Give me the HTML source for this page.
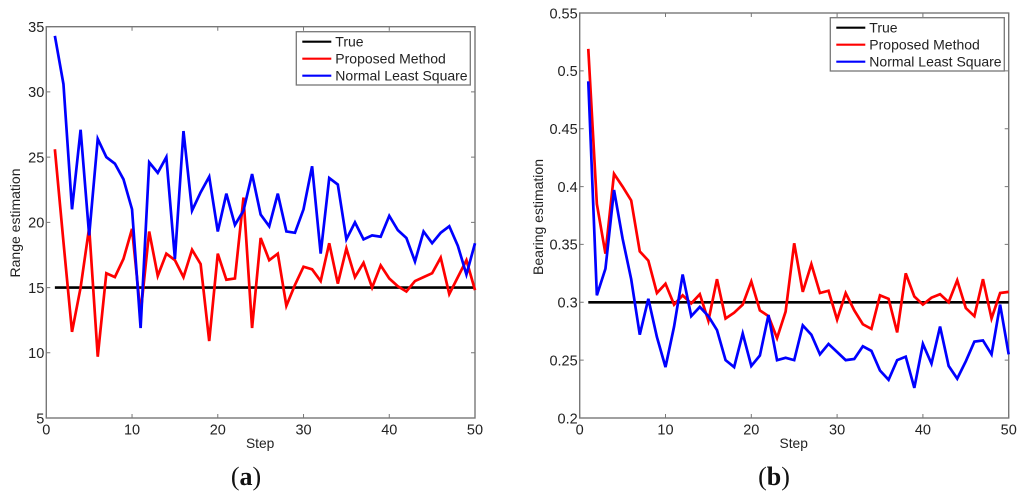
<!DOCTYPE html>
<html lang="en">
<head>
<meta charset="utf-8">
<title>Range and bearing estimation</title>
<style>
html,body{margin:0;padding:0;background:#fff;width:1024px;height:498px;overflow:hidden}
svg{display:block;font-family:"Liberation Sans",Arial,sans-serif;fill:#222}
.soft{filter:blur(.35px)}
</style>
</head>
<body>
<svg id="fig" xmlns="http://www.w3.org/2000/svg" width="1024" height="498" viewBox="0 0 1024 498">
  <g id="chart-a" class="soft"></g>
  <g id="chart-b" class="soft"></g>
  <text x="246" y="485" font-family="'Liberation Serif',serif" font-size="26" text-anchor="middle" fill="#111">(<tspan font-weight="bold">a</tspan>)</text>
  <text x="774" y="485" font-family="'Liberation Serif',serif" font-size="26" text-anchor="middle" fill="#111">(<tspan font-weight="bold">b</tspan>)</text>
</svg>
<script>
var steps = [];
for (var s = 1; s <= 50; s++) steps.push(s);
var xTicks = [0, 10, 20, 30, 40, 50];
var legendLabels = ['True', 'Proposed Method', 'Normal Least Square'];

var rangeYTicks = [5, 10, 15, 20, 25, 30, 35];
var rangeTrue = 15;
var rangeProposed = [25.6,18.5,11.6,15,19.6,9.7,16.1,15.8,17.2,19.5,13.0,19.3,15.9,17.6,17.1,15.8,17.9,16.8,10.9,17.6,15.6,15.7,21.9,11.9,18.8,17.1,17.6,13.6,15.2,16.6,16.4,15.5,18.4,15.3,18.0,15.8,16.9,15.0,16.7,15.7,15.1,14.7,15.5,15.8,16.1,17.3,14.5,15.8,17.1,14.8];
var rangeNormal = [34.3,30.6,21.0,27.1,19.0,26.4,25.0,24.5,23.3,21.0,11.9,24.6,23.8,25.0,17.2,27.0,20.9,22.3,23.5,19.3,22.2,19.8,20.9,23.7,20.6,19.7,22.2,19.3,19.2,21.0,24.3,17.6,23.4,22.9,18.7,20.0,18.7,19.0,18.9,20.5,19.4,18.8,17.0,19.3,18.4,19.2,19.7,18.2,16.0,18.4];

var bearingYTicks = [0.2, 0.25, 0.3, 0.35, 0.4, 0.45, 0.5, 0.55];
var bearingTrue = 0.3;
var bearingProposed = [0.519,0.385,0.342,0.411,0.400,0.388,0.344,0.336,0.308,0.316,0.298,0.306,0.299,0.307,0.284,0.320,0.286,0.291,0.298,0.318,0.293,0.288,0.269,0.292,0.351,0.309,0.333,0.308,0.310,0.285,0.308,0.293,0.281,0.277,0.306,0.303,0.274,0.325,0.305,0.298,0.304,0.307,0.300,0.319,0.295,0.288,0.320,0.286,0.308,0.309];
var bearingNormal = [0.491,0.306,0.329,0.397,0.355,0.320,0.272,0.303,0.270,0.244,0.279,0.324,0.288,0.296,0.288,0.276,0.250,0.244,0.273,0.245,0.254,0.289,0.250,0.252,0.250,0.280,0.272,0.255,0.264,0.257,0.250,0.251,0.262,0.258,0.241,0.233,0.250,0.253,0.226,0.264,0.247,0.279,0.245,0.234,0.249,0.266,0.267,0.255,0.298,0.255];

var NS = 'http://www.w3.org/2000/svg';

function mk(parent, tag) {
  var el = document.createElementNS(NS, tag);
  parent.appendChild(el);
  return el;
}

function drawChart(cfg) {
  var root = document.getElementById(cfg.id);
  var L = cfg.left, R = cfg.right, T = cfg.top, B = cfg.bottom;
  var xMin = xTicks[0], xMax = xTicks[xTicks.length - 1];
  var yMin = cfg.yTicks[0], yMax = cfg.yTicks[cfg.yTicks.length - 1];
  function X(v) { return L + (v - xMin) / (xMax - xMin) * (R - L); }
  function Y(v) { return B - (v - yMin) / (yMax - yMin) * (B - T); }

  // axes frame
  var frame = mk(root, 'rect');
  
  
  frame.setAttribute('x', L);
  frame.setAttribute('y', T);
  frame.setAttribute('width', R - L);
  frame.setAttribute('height', B - T);
  frame.setAttribute('fill', 'none');
  frame.setAttribute('stroke', '#777');
  frame.setAttribute('stroke-width', '1.4');

  // x ticks
  xTicks.forEach(function (t) {
    var tb = mk(root, 'path');
    
    
    tb.setAttribute('d', 'M' + X(t) + ' ' + B + 'v-4M' + X(t) + ' ' + T + 'v4');
    tb.setAttribute('stroke', '#777');
    tb.setAttribute('fill', 'none');
    var lab = mk(root, 'text');
    
    
    lab.setAttribute('x', X(t));
    lab.setAttribute('y', B + 16.5);
    lab.setAttribute('font-size', '14.5');
    lab.setAttribute('text-anchor', 'middle');
    lab.textContent = String(t);
  });

  // y ticks
  cfg.yTicks.forEach(function (t) {
    var tb = mk(root, 'path');
    
    
    tb.setAttribute('d', 'M' + L + ' ' + Y(t) + 'h4M' + R + ' ' + Y(t) + 'h-4');
    tb.setAttribute('stroke', '#777');
    tb.setAttribute('fill', 'none');
    var lab = mk(root, 'text');
    
    
    lab.setAttribute('x', L - 2);
    lab.setAttribute('y', Y(t) + 5.3);
    lab.setAttribute('font-size', '14.5');
    lab.setAttribute('text-anchor', 'end');
    lab.textContent = String(t);
  });

  // axis titles
  var xt = mk(root, 'text');
  
  
  xt.setAttribute('x', (L + R) / 2 - 0.5);
  xt.setAttribute('y', 448);
  xt.setAttribute('font-size', '13.8');
  xt.setAttribute('text-anchor', 'middle');
  xt.textContent = 'Step';

  var yt = mk(root, 'text');
  
  
  yt.setAttribute('transform', 'translate(' + cfg.yTitleX + ' ' + cfg.yTitleY + ') rotate(-90)');
  yt.setAttribute('font-size', '14');
  yt.setAttribute('text-anchor', 'middle');
  yt.textContent = cfg.yTitle;

  // series
  var trueLine = mk(root, 'line');
  
  
  trueLine.setAttribute('x1', X(steps[0]));
  trueLine.setAttribute('x2', X(steps[steps.length - 1]));
  trueLine.setAttribute('y1', Y(cfg.trueValue));
  trueLine.setAttribute('y2', Y(cfg.trueValue));
  trueLine.setAttribute('stroke', '#000');
  trueLine.setAttribute('stroke-width', '2.6');

  var red = mk(root, 'polyline');
  
  
  red.setAttribute('points', cfg.proposed.map(function (v, i) { return X(steps[i]).toFixed(2) + ',' + Y(v).toFixed(2); }).join(' '));
  red.setAttribute('fill', 'none');
  red.setAttribute('stroke', '#f00');
  red.setAttribute('stroke-width', '2.7');

  var blue = mk(root, 'polyline');
  
  
  blue.setAttribute('points', cfg.normal.map(function (v, i) { return X(steps[i]).toFixed(2) + ',' + Y(v).toFixed(2); }).join(' '));
  blue.setAttribute('fill', 'none');
  blue.setAttribute('stroke', '#00f');
  blue.setAttribute('stroke-width', '2.7');

  // legend
  var lg = mk(root, 'g');
  
  
  var box = mk(lg, 'rect');
  
  
  box.setAttribute('x', cfg.legendX);
  box.setAttribute('y', cfg.legendY);
  box.setAttribute('width', 174);
  box.setAttribute('height', 53.3);
  box.setAttribute('fill', '#fff');
  box.setAttribute('stroke', '#777');
  box.setAttribute('stroke-width', '1.3');
  var colors = ['#000', '#f00', '#00f'];
  legendLabels.forEach(function (name, i) {
    var cy = cfg.legendY + 10 + i * 17;
    var sw = mk(lg, 'line');
    
    
    sw.setAttribute('x1', cfg.legendX + 6);
    sw.setAttribute('x2', cfg.legendX + 35);
    sw.setAttribute('y1', cy);
    sw.setAttribute('y2', cy);
    sw.setAttribute('stroke', colors[i]);
    sw.setAttribute('stroke-width', '2.2');
    var tx = mk(lg, 'text');
    
    
    tx.setAttribute('x', cfg.legendX + 39);
    tx.setAttribute('y', cy + 5);
    tx.setAttribute('font-size', '14');
    tx.textContent = name;
  });
}

drawChart({
  id: 'chart-a', left: 46.3, right: 475, top: 26.7, bottom: 418,
  yTicks: rangeYTicks, trueValue: rangeTrue, proposed: rangeProposed, normal: rangeNormal,
  yTitle: 'Range estimation', yTitleX: 20, yTitleY: 223,
  legendX: 296.3, legendY: 31.7
});
drawChart({
  id: 'chart-b', left: 579.7, right: 1008.7, top: 13, bottom: 418,
  yTicks: bearingYTicks, trueValue: bearingTrue, proposed: bearingProposed, normal: bearingNormal,
  yTitle: 'Bearing estimation', yTitleX: 543, yTitleY: 217,
  legendX: 830.3, legendY: 17.7
});
</script>
</body>
</html>
